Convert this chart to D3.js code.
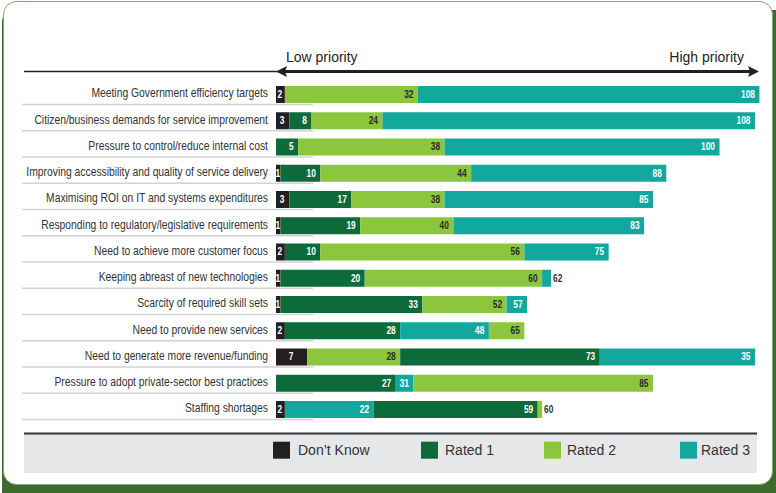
<!DOCTYPE html>
<html>
<head>
<meta charset="utf-8">
<script src="https://cdn.jsdelivr.net/npm/d3@7"></script>
<style>
  html, body { margin: 0; padding: 0; background: #ffffff; }
  svg { display: block; }
</style>
</head>
<body>
<svg id="chart" width="776" height="493"></svg>
<script>
// ---------------- DATA ----------------
const categories = [
  "Meeting Government efficiency targets",
  "Citizen/business demands for service improvement",
  "Pressure to control/reduce internal cost",
  "Improving accessibility and quality of service delivery",
  "Maximising ROI on IT and systems expenditures",
  "Responding to regulatory/legislative requirements",
  "Need to achieve more customer focus",
  "Keeping abreast of new technologies",
  "Scarcity of required skill sets",
  "Need to provide new services",
  "Need to generate more revenue/funding",
  "Pressure to adopt private-sector best practices",
  "Staffing shortages"
];
const seriesNames = ["Don\u2019t Know", "Rated 1", "Rated 2", "Rated 3"];

// cumulative end of each series' segment in each row, as drawn (null = absent)
const dontKnow = [2, 3, null, 1, 3, 1, 2, 1, 1, 2, 7, null, 2];
const rated1   = [null, 8, 5, 10, 17, 19, 10, 20, 33, 28, 73, 27, 59];
const rated2   = [32, 24, 38, 44, 38, 40, 56, 60, 52, 56, 28, 85, 60];
const rated3   = [109, 108, 100, 88, 85, 83, 75, 62, 56.6, 48, 108, 31, 22];

// labels as printed on the original chart
const dontKnowLabels = [2, 3, null, 1, 3, 1, 2, 1, 1, 2, 7, null, 2];
const rated1Labels   = [null, 8, 5, 10, 17, 19, 10, 20, 33, 28, 73, 27, 59];
const rated2Labels   = [32, 24, 38, 44, 38, 40, 56, 60, 52, 65, 28, 85, 60];
const rated3Labels   = [108, 108, 100, 88, 85, 83, 75, 62, 57, 48, 35, 31, 22];

const axisLabels = ["Low priority", "High priority"];
const xDomain = [0, 108];

// ---------------- STYLE ----------------
const colors = ["#231f20", "#0c6a3b", "#8cc63f", "#13a89e"];
const labelColors = ["#ffffff", "#ffffff", "#2b2b2b", "#ffffff"];
const regular = "'Liberation Sans', Arial, sans-serif";
const condenseCat = 0.795; // emulate Arial Narrow
const condenseVal = 0.82;

const svg = d3.select("#chart");

// ---------------- FRAME ----------------
svg.append("rect").attr("x", 2).attr("y", 10).attr("width", 790).attr("height", 500)
  .attr("rx", 12).attr("fill", "#3d6a2d");
svg.append("rect").attr("x", 3.5).attr("y", 1.5).attr("width", 769).attr("height", 483)
  .attr("rx", 13).attr("fill", "#ffffff").attr("stroke", "#7fa86f").attr("stroke-width", 1);

// ---------------- SCALES ----------------
const x = d3.scaleLinear().domain(xDomain).range([276, 755]);
const y = d3.scaleBand().domain(categories).range([81.375, 422.625])
  .paddingInner(0.352).paddingOuter(0.176);

const seriesData = [dontKnow, rated1, rated2, rated3];
const printed = [dontKnowLabels, rated1Labels, rated2Labels, rated3Labels];

const rows = categories.map((cat, i) => {
  const segs = seriesData.map((arr, s) => ({ s, end: arr[i], label: printed[s][i] }))
    .filter(d => d.end != null)
    .sort((a, b) => a.end - b.end);
  let prev = 0;
  segs.forEach(d => { d.start = prev; prev = d.end; });
  return { cat, segs };
});

// ---------------- SEPARATORS ----------------
svg.append("g").selectAll("line").data(categories).join("line")
  .attr("x1", 22).attr("x2", 313)
  .attr("y1", d => y(d) + y.bandwidth() + 1.6)
  .attr("y2", d => y(d) + y.bandwidth() + 1.6)
  .attr("stroke", "#d3d3d3").attr("stroke-width", 1.5);

// ---------------- CATEGORY LABELS ----------------
svg.append("g").selectAll("text").data(categories).join("text")
  .attr("transform", d => `translate(268,${y(d) + y.bandwidth() / 2 + 2.8}) scale(${condenseCat},1)`)
  .attr("text-anchor", "end")
  .attr("font-family", regular).attr("font-size", 13)
  .attr("fill", "#333333")
  .text(d => d);

// ---------------- BARS ----------------
const rowG = svg.append("g").selectAll("g").data(rows).join("g")
  .attr("transform", d => `translate(0,${y(d.cat)})`);

rowG.selectAll("rect").data(d => d.segs).join("rect")
  .attr("x", d => x(d.start))
  .attr("y", 0)
  .attr("width", d => x(d.end) - x(d.start))
  .attr("height", y.bandwidth())
  .attr("fill", d => colors[d.s]);

const ly = y.bandwidth() / 2 + 3.3;
rowG.selectAll("text").data(d => d.segs).join("text")
  .each(function (d) {
    const w = x(d.end) - x(d.start);
    const t = d3.select(this);
    let px, anchor, fill;
    if (d.s === 0) {
      px = (x(d.start) + x(d.end)) / 2 - 0.5; anchor = "middle"; fill = labelColors[0];
    } else if (w < 14) {
      px = x(d.end) + 2; anchor = "start"; fill = "#333333";
    } else {
      px = x(d.end) - 4.5; anchor = "end"; fill = labelColors[d.s];
    }
    t.attr("transform", `translate(${px},${ly}) scale(${condenseVal},1)`)
      .attr("text-anchor", anchor).attr("fill", fill);
  })
  .attr("font-family", regular).attr("font-size", 10.2).attr("font-weight", "bold")
  .text(d => d.label);

// ---------------- PRIORITY AXIS ----------------
const ay = 71.5;
svg.append("line").attr("x1", 24).attr("x2", 280).attr("y1", ay).attr("y2", ay)
  .attr("stroke", "#231f20").attr("stroke-width", 1.4);
svg.append("line").attr("x1", 282).attr("x2", 752).attr("y1", ay).attr("y2", ay)
  .attr("stroke", "#231f20").attr("stroke-width", 3.2);
svg.append("path").attr("d", `M276,${ay} L287,${ay - 5.5} L285,${ay} L287,${ay + 5.5} Z`).attr("fill", "#231f20");
svg.append("path").attr("d", `M759,${ay} L748,${ay - 5.5} L750,${ay} L748,${ay + 5.5} Z`).attr("fill", "#231f20");
svg.append("text").attr("x", 286).attr("y", 61.7).attr("font-family", regular).attr("font-size", 14)
  .attr("fill", "#231f20").text(axisLabels[0]);
svg.append("text").attr("x", 744).attr("y", 61.7).attr("text-anchor", "end").attr("font-family", regular)
  .attr("font-size", 14).attr("fill", "#231f20").text(axisLabels[1]);

// ---------------- LEGEND ----------------
svg.append("rect").attr("x", 24).attr("y", 433).attr("width", 733).attr("height", 40).attr("fill", "#e6e7e8");
svg.append("line").attr("x1", 24).attr("x2", 757).attr("y1", 433.5).attr("y2", 433.5)
  .attr("stroke", "#333333").attr("stroke-width", 2);
const legendSquareX = [273, 421, 544, 680];
const legendTextX = [298, 445, 567, 701];
const lg = svg.append("g").selectAll("g").data(seriesNames).join("g");
lg.append("rect").attr("x", (d, i) => legendSquareX[i]).attr("y", 441.7)
  .attr("width", 17).attr("height", 17).attr("fill", (d, i) => colors[i]);
lg.append("text").attr("x", (d, i) => legendTextX[i]).attr("y", 454.5)
  .attr("font-family", regular).attr("font-size", 14).attr("fill", "#333333")
  .text(d => d);
</script>
</body>
</html>
